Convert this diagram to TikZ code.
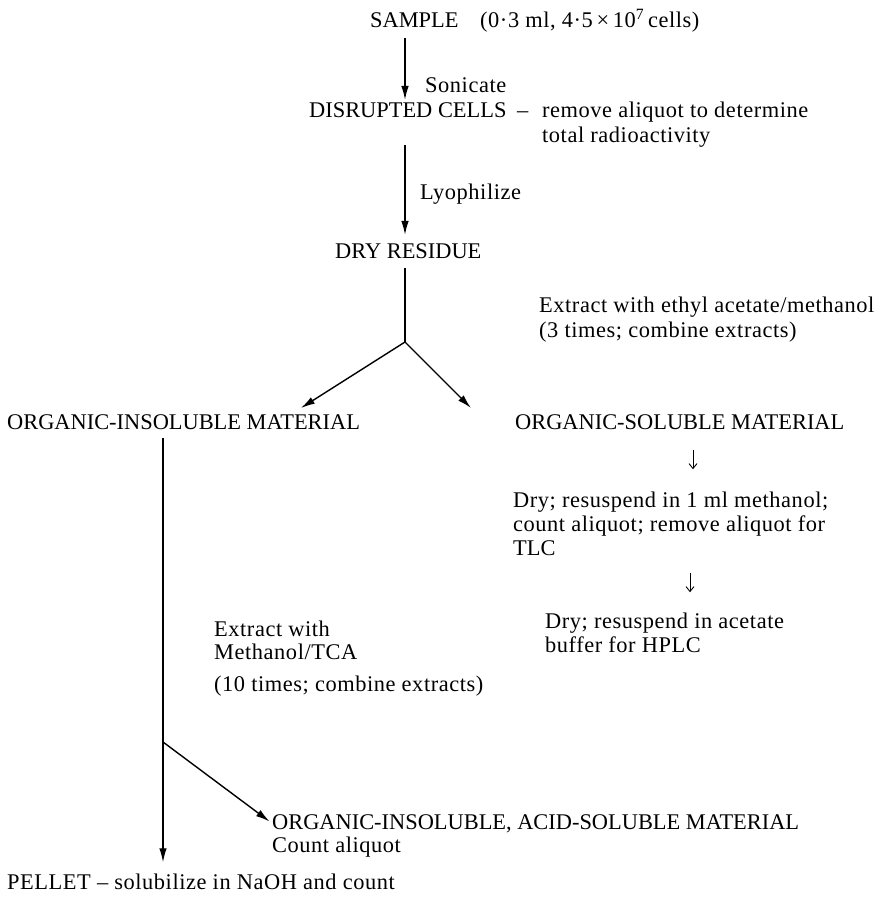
\documentclass[tikz,border=0pt]{standalone}
\usepackage{fontspec}
\setmainfont{Liberation Serif}
\newfontfamily\lsfont[LetterSpace=2.5]{Liberation Serif}
\usetikzlibrary{arrows.meta}
\begin{document}
\begin{tikzpicture}[x=1pt,y=-1pt,
  txt/.style={anchor=base west,inner sep=0pt,font=\fontsize{22.4}{25}\selectfont},
  ltxt/.style={anchor=base west,inner sep=0pt,font=\fontsize{22.4}{25}\lsfont},
  arr/.style={line width=1.4pt,-{Latex[length=14pt,width=7.5pt]}},
  ln/.style={line width=1.4pt},
  smallarr/.style={line width=0.9pt,-{Straight Barb[length=5pt,width=8pt]}}]
\useasboundingbox (0,0) rectangle (891,897);
% main column
\coordinate (c) at (405,0);
\node[txt] (sample) at (370,27) {SAMPLE};
\node[ltxt] (sampinfo) at (480,27) {(0·3 ml, 4·5\,×\,10\textsuperscript{7}\,cells)};
\node[ltxt] (sonic) at (425,92) {Sonicate};
\node[txt] (disc) at (309,117) {DISRUPTED CELLS};
\node[txt] (dash1) at (517,117) {–};
\node[ltxt] (rem1) at (542,117) {remove aliquot to determine};
\node[ltxt] (rem2) at (542,142) {total radioactivity};
\node[ltxt] (lyo) at (420,199) {Lyophilize};
\node[txt] (dry) at (335,258) {DRY RESIDUE};
\node[ltxt] (ext1) at (539,312) {Extract with ethyl acetate/methanol};
\node[ltxt] (ext2) at (539,337) {(3 times; combine extracts)};
\coordinate (junc) at (405,342);
\coordinate (tl) at (301,408);
\coordinate (tr) at (471,408);
\node[txt] (oim) at (7,429) {ORGANIC-INSOLUBLE MATERIAL};
\node[txt] (osm) at (515,429) {ORGANIC-SOLUBLE MATERIAL};
% right column
\node[ltxt] (d1a) at (513,507) {Dry; resuspend in 1 ml methanol;};
\node[ltxt] (d1b) at (513,531) {count aliquot; remove aliquot for};
\node[txt] (d1c) at (513,555) {TLC};
\node[ltxt] (d2a) at (545,628) {Dry; resuspend in acetate};
\node[ltxt] (d2b) at (545,652) {buffer for HPLC};
% left column
\node[ltxt] (mt1) at (214,636) {Extract with};
\node[ltxt] (mt2) at (214,659) {Methanol/TCA};
\node[ltxt] (mt3) at (214,691) {(10 times; combine extracts)};
\coordinate (lc) at (163,0);
\coordinate (junc2) at (163,742);
\node[txt] (oiasm) at (272,829) {ORGANIC-INSOLUBLE, ACID-SOLUBLE MATERIAL};
\node[ltxt] (cnt) at (272,852) {Count aliquot};
\node[ltxt] (pellet) at (7,889) {PELLET – solubilize in NaOH and count};
% connectors
\draw[arr,shorten <=11pt,shorten >=2pt] (sample.south -| c) -- (disc.north -| c);
\draw[arr,shorten <=28pt,shorten >=8pt] (disc.south -| c) -- (dry.north -| c);
\draw[ln,shorten <=10pt] (dry.south -| c) -- (junc);
\draw[arr] (junc) -- (tl);
\draw[arr] (junc) -- (tr);
\coordinate (a1) at (693,0);
\draw[smallarr,shorten <=21pt,shorten >=22pt] (osm.south -| a1) -- (d1a.north -| a1);
\coordinate (a2) at (690,0);
\draw[smallarr,shorten <=18pt,shorten >=20pt] (d1c.south -| a2) -- (d2a.north -| a2);
\draw[arr,shorten <=9pt,shorten >=11pt] (oim.south -| lc) -- (pellet.north -| lc);
\draw[arr,shorten >=3pt] (junc2) -- (oiasm.west);
\end{tikzpicture}
\end{document}
